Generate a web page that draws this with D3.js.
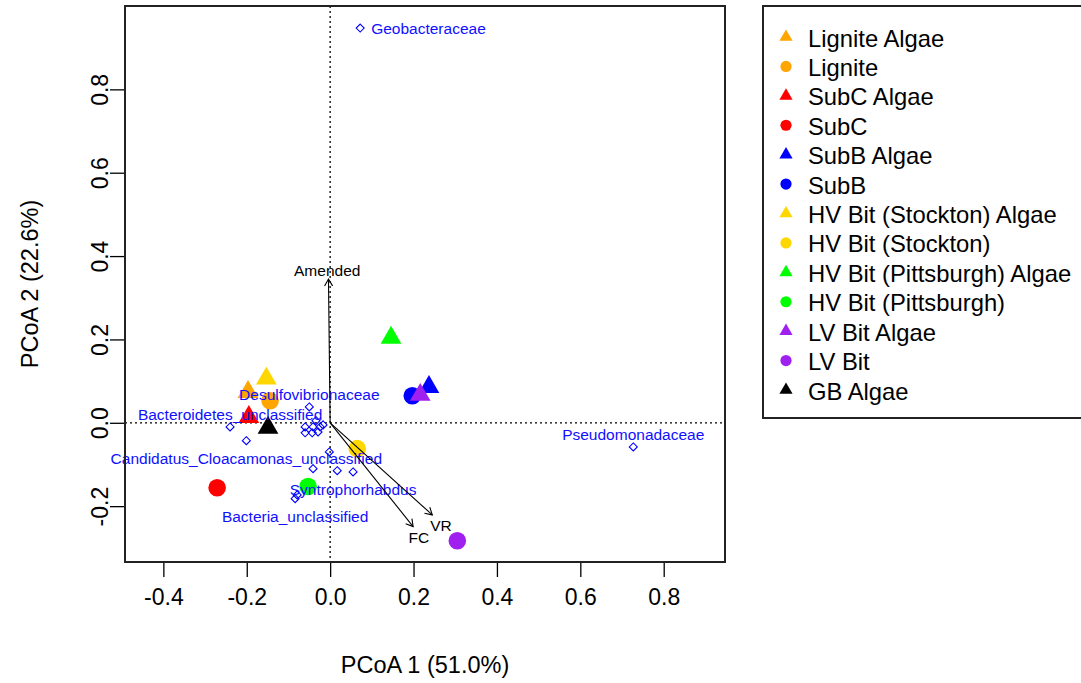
<!DOCTYPE html>
<html>
<head>
<meta charset="utf-8">
<script src="https://cdn.jsdelivr.net/npm/d3@7"></script>
<style>
  html, body { margin: 0; padding: 0; background: #fff; }
  svg { display: block; font-family: "Liberation Sans", Arial, sans-serif; }
</style>
</head>
<body>
<svg id="chart" width="1081" height="683"></svg>
<script>
// Sample groups (ordination scores on the first two PCoA axes)
const groups = ["Lignite Algae", "Lignite", "SubC Algae", "SubC", "SubB Algae", "SubB",
  "HV Bit (Stockton) Algae", "HV Bit (Stockton)", "HV Bit (Pittsburgh) Algae",
  "HV Bit (Pittsburgh)", "LV Bit Algae", "LV Bit", "GB Algae"];
const groupColors = ["#FFA500", "#FFA500", "#FF0000", "#FF0000", "#0000FF", "#0000FF",
  "#FFD700", "#FFD700", "#00FF00", "#00FF00", "#A020F0", "#A020F0", "#000000"];
const groupShapes = ["triangle", "circle", "triangle", "circle", "triangle", "circle",
  "triangle", "circle", "triangle", "circle", "triangle", "circle", "triangle"];
const pcoa1 = [-0.197, -0.144, -0.195, -0.271, 0.237, 0.197, -0.153, 0.065, 0.146, -0.053, 0.216, 0.305, -0.149];
const pcoa2 = [0.074, 0.053, 0.014, -0.156, 0.086, 0.065, 0.106, -0.062, 0.204, -0.153, 0.067, -0.283, -0.012];

// Taxa weighted-average scores (open diamonds)
const taxaNames = ["Geobacteraceae", "Pseudomonadaceae", "Desulfovibrionaceae",
  "Bacteroidetes_unclassified", "Candidatus_Cloacamonas_unclassified", "Bacteria_unclassified",
  "Syntrophorhabdus", "", "", "", "", "", "", "", "", "", "", "", ""];
const taxaX = [0.072, 0.727, -0.050, -0.240, -0.201, -0.084, 0.055, -0.079, -0.034, -0.060, -0.041,
  -0.024, -0.060, -0.043, -0.029, -0.017, -0.002, -0.041, 0.017];
const taxaY = [0.947, -0.058, 0.038, -0.010, -0.043, -0.182, -0.118, -0.173, 0.005, -0.010, -0.010,
  -0.010, -0.024, -0.024, -0.022, -0.005, -0.070, -0.110, -0.115];
// label side, as in R's text(pos=): 1 below, 3 above, 4 right
const taxaLabelPos = [4, 3, 3, 3, 1, 1, 1, 0, 0, 0, 0, 0, 0, 0, 0, 0, 0, 0, 0];

// Environmental fit vectors
const vectorNames = ["Amended", "FC", "VR"];
const vectorX = [-0.004, 0.199, 0.245];
const vectorY = [0.345, -0.249, -0.221];
const vectorLabelX = [-0.007, 0.213, 0.266];
const vectorLabelY = [0.365, -0.276, -0.247];

// Axis ticks and titles
const xTicks = [-0.4, -0.2, 0.0, 0.2, 0.4, 0.6, 0.8];
const yTicks = [-0.2, 0.0, 0.2, 0.4, 0.6, 0.8];
const xTitle = "PCoA 1 (51.0%)";
const yTitle = "PCoA 2 (22.6%)";

const svg = d3.select("#chart");
const plot = { left: 125, right: 725, top: 6, bottom: 562 };

const x = d3.scaleLinear().domain([-0.492, 0.947]).range([plot.left, plot.right]);
const y = d3.scaleLinear().domain([-0.334, 1.0]).range([plot.bottom, plot.top]);

// plain hyphen-minus for negative tick labels
const fmt = v => v.toFixed(1);

// Triangle shaped like R's pch 17, centred on its centroid
function trianglePath(R) {
  return `M0,${-1.555 * R}L${1.347 * R},${0.778 * R}L${-1.347 * R},${0.778 * R}Z`;
}

// Reference lines through the origin
svg.append("line")
  .attr("x1", plot.left).attr("x2", plot.right)
  .attr("y1", y(0)).attr("y2", y(0))
  .attr("stroke", "#000").attr("stroke-width", 1.3).attr("stroke-dasharray", "2,3");
svg.append("line")
  .attr("x1", x(0)).attr("x2", x(0))
  .attr("y1", plot.top).attr("y2", plot.bottom)
  .attr("stroke", "#000").attr("stroke-width", 1.3).attr("stroke-dasharray", "2,3");

// Axes
const xAxis = d3.axisBottom(x).tickValues(xTicks).tickFormat(fmt).tickSize(15).tickPadding(12);
const gx = svg.append("g").attr("transform", `translate(0,${plot.bottom})`).call(xAxis);
gx.select(".domain").remove();
gx.selectAll(".tick line").attr("stroke", "#000").attr("stroke-width", 1.3);
gx.selectAll(".tick text").attr("font-size", 23).attr("fill", "#000")
  .attr("font-family", "Liberation Sans, Arial, sans-serif");

const yAxis = d3.axisLeft(y).tickValues(yTicks).tickFormat(fmt).tickSize(15).tickPadding(0);
const gy = svg.append("g").attr("transform", `translate(${plot.left},0)`).call(yAxis);
gy.select(".domain").remove();
gy.selectAll(".tick line").attr("stroke", "#000").attr("stroke-width", 1.3);
gy.selectAll(".tick text")
  .attr("font-size", 23).attr("fill", "#000")
  .attr("font-family", "Liberation Sans, Arial, sans-serif")
  .attr("x", null).attr("dy", null)
  .attr("text-anchor", "middle")
  .attr("transform", "translate(-25,0) rotate(-90)")
  .attr("dominant-baseline", "central");

// Axis titles
svg.append("text")
  .attr("x", (plot.left + plot.right) / 2).attr("y", 673)
  .attr("text-anchor", "middle").attr("font-size", 23.5).attr("fill", "#000")
  .text(xTitle);
svg.append("text")
  .attr("transform", `translate(38,${(plot.top + plot.bottom) / 2}) rotate(-90)`)
  .attr("text-anchor", "middle").attr("font-size", 23.5).attr("fill", "#000")
  .text(yTitle);

// Sample points
const samples = groups.map((g, i) => ({ g, c: groupColors[i], s: groupShapes[i], x: pcoa1[i], y: pcoa2[i] }));
const pts = svg.append("g");
samples.forEach(d => {
  if (d.s === "triangle") {
    pts.append("path").attr("d", trianglePath(7.7))
      .attr("transform", `translate(${x(d.x)},${y(d.y)})`).attr("fill", d.c);
  } else {
    pts.append("circle").attr("cx", x(d.x)).attr("cy", y(d.y)).attr("r", 8.8).attr("fill", d.c);
  }
});

// Taxa diamonds
const taxa = taxaNames.map((n, i) => ({ n, x: taxaX[i], y: taxaY[i], p: taxaLabelPos[i] }));
svg.append("g").selectAll("path").data(taxa).join("path")
  .attr("d", "M0,-4L4,0L0,4L-4,0Z")
  .attr("transform", d => `translate(${x(d.x)},${y(d.y)})`)
  .attr("fill", "none").attr("stroke", "#0000FF").attr("stroke-width", 1.1);

// Taxa labels
svg.append("g").selectAll("text").data(taxa.filter(d => d.n)).join("text")
  .attr("x", d => d.p === 4 ? x(d.x) + 11 : x(d.x))
  .attr("y", d => d.p === 3 ? y(d.y) - 12 : d.p === 1 ? y(d.y) + 18 : y(d.y))
  .attr("text-anchor", d => d.p === 4 ? "start" : "middle")
  .attr("dominant-baseline", "central")
  .attr("font-size", 15.5).attr("fill", "#1010FF")
  .text(d => d.n);

// Fitted vectors with open arrowheads
const vecG = svg.append("g");
vectorNames.forEach((n, i) => {
  const x0 = x(0), y0 = y(0), x1 = x(vectorX[i]), y1 = y(vectorY[i]);
  vecG.append("line").attr("x1", x0).attr("y1", y0).attr("x2", x1).attr("y2", y1)
    .attr("stroke", "#000").attr("stroke-width", 1.1);
  const a = Math.atan2(y1 - y0, x1 - x0), L = 8, spread = Math.PI / 6;
  const p1 = [x1 - L * Math.cos(a - spread), y1 - L * Math.sin(a - spread)];
  const p2 = [x1 - L * Math.cos(a + spread), y1 - L * Math.sin(a + spread)];
  vecG.append("path").attr("d", `M${p1}L${x1},${y1}L${p2}`)
    .attr("fill", "none").attr("stroke", "#000").attr("stroke-width", 1.1);
  vecG.append("text").attr("x", x(vectorLabelX[i])).attr("y", y(vectorLabelY[i]))
    .attr("text-anchor", "middle").attr("dominant-baseline", "central")
    .attr("font-size", 15.5).attr("fill", "#000").text(n);
});

// Plot frame
svg.append("rect")
  .attr("x", plot.left).attr("y", plot.top)
  .attr("width", plot.right - plot.left).attr("height", plot.bottom - plot.top)
  .attr("fill", "none").attr("stroke", "#222").attr("stroke-width", 2);

// Legend
const leg = svg.append("g");
leg.append("rect").attr("x", 763).attr("y", 6).attr("width", 330).attr("height", 412)
  .attr("fill", "none").attr("stroke", "#222").attr("stroke-width", 2);
const rowY = d3.scalePoint().domain(groups).range([38, 391]);
groups.forEach((g, i) => {
  const cy = rowY(g);
  if (groupShapes[i] === "triangle") {
    leg.append("path").attr("d", trianglePath(4.9))
      .attr("transform", `translate(786,${cy - 1})`).attr("fill", groupColors[i]);
  } else {
    leg.append("circle").attr("cx", 786).attr("cy", cy - 1).attr("r", 5.6).attr("fill", groupColors[i]);
  }
  leg.append("text").attr("x", 808).attr("y", cy)
    .attr("dominant-baseline", "central")
    .attr("font-size", 23.8).attr("fill", "#000").text(g);
});
</script>
</body>
</html>
